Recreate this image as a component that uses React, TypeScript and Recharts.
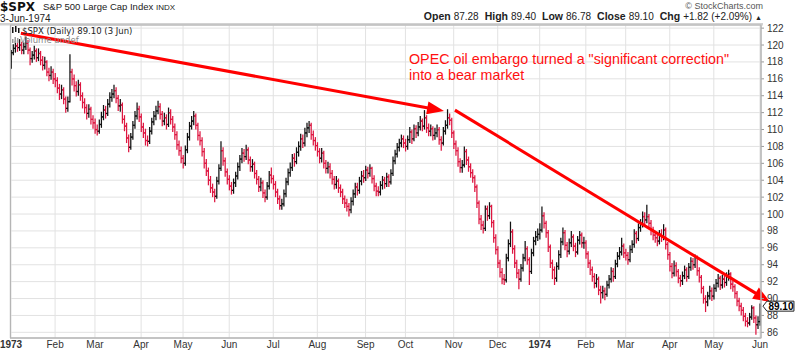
import React from "react";
import {
  ComposedChart,
  Bar,
  XAxis,
  YAxis,
  CartesianGrid,
  ReferenceLine,
  ReferenceDot,
} from "recharts";

const FONT = "'Liberation Sans', Arial, Helvetica, sans-serif";
const UP = "#111111";
const DOWN = "#de1640";
const ARROW = "#ff0000";

// daily closes, Jan 2 1973 .. Jun 3 1974 (one row per month)
const closes = [
  119.1, 119.6, 119.9, 119.7, 120.0, 119.4, 119.8, 120.2, 119.4, 118.4, 118.8, 119.3, 118.5, 119.0, 118.2, 117.6, 118.0, 116.8, 116.4, 116.8, 116.0,
  115.8, 114.9, 114.2, 114.7, 113.6, 112.5, 113.3, 116.8, 116.0, 115.2, 114.5, 115.3, 114.0, 113.2, 112.6, 111.9, 112.4, 111.2, 110.8,
  110.0, 109.8, 110.6, 111.5, 112.3, 111.9, 113.0, 113.8, 114.2, 114.6, 113.7, 112.8, 112.9, 111.2, 110.4, 109.0, 107.9, 109.1, 110.5, 111.6, 112.4, 111.5,
  110.3, 109.6, 108.7, 108.6, 109.8, 110.9, 111.6, 112.2, 112.7, 111.8, 111.0, 111.4, 110.6, 112.0, 111.2, 110.3, 109.4, 108.2, 107.5, 106.6,
  106.0, 107.6, 109.1, 110.4, 111.0, 111.6, 110.5, 109.3, 108.7, 107.4, 106.0, 105.1, 104.0, 103.1, 102.6, 102.1, 103.9, 105.4, 107.5, 106.3, 105.0, 104.1,
  103.3, 102.8, 103.7, 104.5, 105.6, 106.5, 107.2, 106.8, 107.6, 106.4, 105.6, 105.9, 104.8, 104.1, 103.2, 103.7, 102.5, 102.0, 103.3, 104.6, 104.2,
  103.5, 102.6, 101.8, 101.0, 101.2, 102.4, 103.8, 104.9, 105.5, 106.6, 106.2, 107.3, 108.0, 108.9, 108.4, 109.6, 110.2, 110.5, 109.4, 108.7, 108.1,
  107.4, 106.6, 107.2, 106.0, 105.4, 105.6, 104.8, 104.1, 103.5, 103.9, 103.1, 102.6, 101.8, 101.3, 100.9, 100.5, 101.5, 102.4, 103.2, 102.8, 103.9, 104.5, 104.3,
  105.2, 104.8, 105.4, 104.2, 103.3, 102.7, 102.6, 103.4, 104.0, 103.6, 104.4, 103.8, 104.8, 106.3, 107.1, 107.9, 108.4, 108.9, 108.4,
  108.0, 108.8, 109.7, 108.9, 110.1, 109.6, 110.3, 111.0, 110.4, 111.4, 110.2, 109.8, 110.1, 109.3, 109.6, 110.0, 108.8, 108.4, 109.8, 110.5, 111.4, 111.1, 109.6,
  108.3, 107.5, 106.2, 105.5, 105.8, 107.4, 106.4, 105.6, 104.9, 104.3, 103.2, 101.3, 99.4, 98.7, 98.3, 100.6, 99.8, 100.9, 99.0, 97.2, 95.8,
  94.2, 93.1, 92.3, 92.2, 94.8, 96.5, 97.9, 95.9, 94.2, 93.0, 92.3, 93.6, 94.8, 95.9, 94.6, 93.2, 95.4, 96.8, 97.3, 97.6,
  98.1, 99.8, 98.9, 97.8, 96.1, 94.2, 93.4, 92.4, 93.8, 95.2, 96.7, 97.8, 96.3, 95.6, 96.6, 97.3, 96.2, 95.5, 96.9, 97.5, 96.6, 96.6,
  95.3, 94.2, 93.4, 92.6, 91.8, 92.3, 91.0, 90.7, 90.9, 90.5, 91.6, 92.3, 93.2, 92.6, 94.1, 95.0, 95.5, 96.2, 95.4,
  95.1, 94.6, 95.8, 96.4, 97.7, 97.1, 98.4, 98.8, 99.7, 99.3, 99.7, 98.9, 98.1, 97.5, 97.2, 96.8, 97.6, 97.3, 98.1, 96.4, 95.2,
  93.8, 93.0, 93.9, 93.2, 92.4, 92.1, 92.7, 93.4, 92.6, 93.7, 94.4, 94.0, 94.9, 93.3, 92.5, 91.2, 90.0, 89.6, 90.3, 90.9, 90.3,
  91.2, 91.8, 92.4, 91.6, 92.3, 91.9, 92.6, 92.9, 91.7, 91.4, 90.6, 89.7, 89.1, 88.6, 87.9, 87.3, 87.1, 87.8, 88.9, 87.7, 86.9, 87.28,
  89.1,
];

const highs = [
  119.4, 120.1, 120.5, 120.6, 120.7, 120.4, 120.3, 121.0, 120.6, 119.7, 119.3, 119.9, 119.6, 119.6, 119.3, 118.7, 118.6, 118.2, 117.3, 117.5, 117.2,
  116.7, 116.2, 115.4, 115.3, 115.0, 113.9, 113.9, 118.9, 117.2, 116.5, 115.7, 115.9, 115.6, 114.4, 113.7, 113.0, 113.0, 112.7, 111.7,
  111.3, 110.6, 111.2, 112.1, 112.9, 112.8, 113.6, 114.4, 114.8, 115.3, 115.0, 114.1, 113.6, 113.2, 111.7, 110.8, 109.4, 109.6, 111.0, 112.2, 113.2, 112.8,
  111.9, 110.8, 110.1, 109.3, 110.3, 111.4, 112.2, 112.8, 113.4, 113.1, 112.2, 112.0, 111.8, 112.6, 112.4, 111.6, 110.7, 109.8, 108.7, 108.0,
  107.0, 108.1, 109.6, 110.9, 111.6, 112.2, 111.9, 110.8, 109.8, 109.1, 107.8, 106.5, 105.5, 104.5, 103.6, 103.0, 104.4, 105.9, 108.6, 107.9, 106.7, 105.4,
  104.6, 103.8, 104.2, 105.0, 106.1, 107.0, 107.8, 107.7, 108.2, 107.9, 106.8, 106.5, 106.2, 105.2, 104.5, 104.3, 104.0, 102.9, 103.8, 105.1, 105.5,
  104.6, 103.9, 103.0, 102.2, 101.8, 102.9, 104.3, 105.4, 106.1, 107.1, 107.2, 107.9, 108.6, 109.5, 109.4, 110.2, 110.8, 111.0, 110.8, 109.9, 109.1,
  108.5, 107.8, 107.8, 107.5, 106.4, 106.2, 106.0, 105.2, 104.5, 104.5, 104.2, 103.5, 103.0, 102.2, 101.8, 101.3, 102.0, 102.9, 103.7, 103.7, 104.4, 105.1, 105.2,
  105.7, 105.6, 105.9, 105.6, 104.6, 103.7, 103.3, 103.9, 104.5, 104.4, 104.9, 104.7, 105.3, 106.8, 107.6, 108.4, 108.9, 109.4, 109.3,
  108.9, 109.3, 110.3, 110.0, 110.6, 110.5, 110.9, 111.6, 111.3, 112.3, 111.7, 110.7, 110.6, 110.4, 110.2, 110.6, 110.3, 109.2, 110.3, 111.1, 112.4, 111.9, 111.4,
  109.9, 108.7, 107.9, 106.6, 106.4, 108.0, 107.7, 106.8, 106.0, 105.3, 104.6, 103.5, 101.6, 99.9, 99.2, 101.0, 101.0, 101.4, 101.1, 99.3, 97.6,
  96.2, 94.6, 93.6, 92.9, 95.3, 97.0, 99.1, 98.2, 96.3, 94.6, 93.5, 94.1, 95.3, 96.8, 96.2, 94.9, 95.9, 97.3, 98.0, 98.3,
  98.9, 100.9, 100.2, 99.2, 98.1, 96.4, 94.6, 93.8, 94.3, 95.7, 97.2, 98.4, 98.1, 96.7, 97.1, 98.0, 97.6, 96.6, 97.4, 98.0, 97.8, 97.3,
  96.9, 95.6, 94.6, 93.8, 93.0, 92.9, 92.6, 91.5, 91.5, 91.3, 92.1, 92.8, 93.7, 93.6, 94.6, 95.5, 96.1, 97.2, 96.5,
  95.9, 95.5, 96.3, 96.9, 98.2, 98.0, 98.9, 99.4, 100.3, 100.2, 101.1, 100.0, 99.3, 98.5, 98.0, 97.6, 98.1, 98.2, 98.8, 98.4, 96.7,
  95.5, 94.2, 94.5, 94.3, 93.5, 92.8, 93.2, 93.9, 93.7, 94.2, 94.9, 94.8, 95.2, 95.1, 93.7, 92.8, 91.5, 90.4, 90.8, 91.5, 91.3,
  91.7, 92.3, 92.9, 92.7, 92.8, 92.7, 93.1, 93.4, 93.1, 92.1, 91.7, 90.9, 90.1, 89.5, 89.0, 88.3, 87.8, 88.3, 89.2, 89.1, 88.0, 87.9,
  89.4,
];

const lows = [
  117.2, 118.8, 119.1, 119.2, 119.3, 118.9, 118.9, 119.4, 118.9, 117.6, 117.9, 118.3, 118.0, 118.1, 117.6, 117.0, 117.1, 116.3, 115.7, 115.9, 115.4,
  115.0, 114.3, 113.5, 113.6, 113.0, 112.0, 112.1, 113.2, 115.2, 114.5, 113.9, 114.0, 113.4, 112.5, 111.9, 111.2, 111.4, 110.6, 110.1,
  109.5, 109.3, 109.5, 110.2, 111.1, 111.3, 111.6, 112.6, 113.3, 113.7, 113.1, 112.2, 112.1, 110.7, 109.8, 108.4, 107.3, 107.6, 108.8, 110.1, 111.2, 110.9,
  109.7, 109.0, 108.1, 108.0, 108.3, 109.4, 110.5, 111.1, 111.8, 111.2, 110.4, 110.5, 110.0, 110.3, 110.6, 109.7, 108.8, 107.6, 106.9, 106.0,
  105.4, 105.7, 107.2, 108.7, 110.0, 110.5, 110.0, 108.7, 108.1, 106.8, 105.4, 104.5, 103.4, 102.5, 102.0, 101.4, 101.8, 103.5, 105.1, 105.7, 104.4, 103.5,
  102.8, 102.3, 102.4, 103.2, 104.1, 105.1, 106.0, 106.2, 106.4, 105.9, 105.0, 105.0, 104.2, 103.5, 102.6, 102.7, 101.9, 101.4, 101.7, 102.9, 103.6,
  102.9, 102.0, 101.2, 100.5, 100.5, 100.9, 102.0, 103.4, 104.4, 105.1, 105.6, 105.9, 106.8, 107.5, 107.8, 108.0, 109.1, 109.6, 108.8, 108.1, 107.5,
  106.8, 106.0, 106.1, 105.4, 104.8, 104.8, 104.2, 103.5, 102.9, 103.0, 102.5, 102.0, 101.2, 100.7, 100.3, 99.7, 100.1, 101.0, 101.9, 102.2, 102.4, 103.4, 103.7,
  103.9, 104.2, 104.4, 103.6, 102.7, 102.1, 102.1, 102.2, 102.9, 103.0, 103.2, 103.2, 103.5, 104.5, 105.9, 106.7, 107.4, 107.9, 107.8,
  107.4, 107.6, 108.4, 108.3, 108.6, 109.0, 109.2, 109.9, 109.8, 110.0, 109.6, 109.2, 109.2, 108.7, 108.8, 109.1, 108.2, 107.5, 108.1, 109.4, 110.1, 110.5, 109.0,
  107.7, 106.9, 105.6, 104.9, 104.9, 105.5, 105.8, 105.0, 104.3, 103.7, 102.6, 100.7, 98.8, 98.1, 97.7, 98.0, 99.2, 99.4, 98.4, 96.6, 95.2,
  93.6, 92.5, 91.7, 91.6, 91.9, 94.4, 96.1, 95.3, 93.6, 92.4, 91.1, 92.0, 93.2, 94.4, 94.0, 91.6, 92.9, 95.0, 96.3, 96.8,
  97.0, 97.8, 98.3, 97.2, 95.5, 93.6, 92.3, 91.6, 92.0, 93.4, 94.8, 96.3, 95.7, 94.9, 95.2, 96.1, 95.6, 94.9, 95.2, 96.4, 96.0, 95.9,
  94.7, 93.6, 92.8, 92.0, 91.2, 91.3, 90.4, 89.4, 90.0, 89.8, 90.2, 91.2, 91.9, 92.0, 92.3, 93.7, 94.6, 95.1, 94.8,
  94.5, 94.0, 94.3, 95.4, 96.0, 96.5, 96.8, 97.9, 98.4, 98.7, 98.9, 98.3, 97.5, 96.9, 96.6, 96.2, 96.4, 96.7, 96.9, 95.8, 94.6,
  93.2, 92.4, 92.6, 92.6, 91.8, 91.4, 91.6, 92.3, 92.0, 92.3, 93.3, 93.4, 93.6, 92.7, 91.9, 90.6, 89.4, 88.4, 89.1, 89.9, 89.7,
  89.9, 90.8, 91.3, 91.0, 91.2, 91.3, 91.5, 92.1, 91.1, 90.8, 90.0, 89.1, 88.5, 88.0, 87.3, 86.7, 86.6, 86.8, 87.5, 87.1, 85.7, 86.4,
  86.78,
];

// open of the first session; later opens are the prior close (as in the 1970s data)
const firstOpen = 118.05;

const monthTicks = [0, 21, 40, 62, 82, 104, 125, 146, 169, 188, 211, 232, 252, 274, 293, 314, 335, 357];
const monthLabels = ["1973", "Feb", "Mar", "Apr", "May", "Jun", "Jul", "Aug", "Sep", "Oct", "Nov", "Dec", "1974", "Feb", "Mar", "Apr", "May", "Jun"];
const priceTicks = [86, 88, 90, 92, 94, 96, 98, 100, 102, 104, 106, 108, 110, 112, 114, 116, 118, 120, 122];

// annotation arrows in (session index, price)
const arrowOne = [{ x: 4.7, y: 121.4 }, { x: 206.4, y: 112.2 }];
const arrowTwo = [{ x: 211.6, y: 112.3 }, { x: 361.8, y: 89.6 }];

const data = closes.map((close, i) => ({
  i,
  open: i === 0 ? firstOpen : closes[i - 1],
  high: highs[i],
  low: lows[i],
  close,
  range: [lows[i], highs[i]],
}));

const last = data[data.length - 1];

function OhlcBar(props: any) {
  const { x, y, width, height, payload } = props;
  if (!payload || height == null) return null;
  const top = Math.min(y, y + height);
  const h = Math.abs(height);
  const span = payload.high - payload.low || 1;
  const toY = (v: number) => top + ((payload.high - v) / span) * h;
  const cx = x + width / 2;
  const color = payload.close < payload.open ? DOWN : UP;
  return (
    <g stroke={color} strokeWidth={1.25}>
      <line x1={cx} x2={cx} y1={top} y2={top + h} />
      <line x1={cx - 1.8} x2={cx} y1={toY(payload.open)} y2={toY(payload.open)} />
      <line x1={cx} x2={cx + 1.8} y1={toY(payload.close)} y2={toY(payload.close)} />
    </g>
  );
}

function Arrow(props: any) {
  const { x1, y1, x2, y2 } = props;
  if (x1 == null) return null;
  const a = Math.atan2(y2 - y1, x2 - x1);
  const len = 17;
  const half = 6.5;
  const bx = x2 - len * Math.cos(a);
  const by = y2 - len * Math.sin(a);
  const px = -Math.sin(a) * half;
  const py = Math.cos(a) * half;
  return (
    <g>
      <line x1={x1} y1={y1} x2={bx + Math.cos(a)} y2={by + Math.sin(a)} stroke={ARROW} strokeWidth={3} />
      <polygon points={`${x2},${y2} ${bx + px},${by + py} ${bx - px},${by - py}`} fill={ARROW} />
    </g>
  );
}

function PriceTag(props: any) {
  const { cx, cy } = props;
  if (cx == null) return null;
  const l = cx + 3;
  return (
    <g>
      <polygon
        points={`${l},${cy} ${l + 4},${cy - 5} ${l + 31},${cy - 5} ${l + 31},${cy + 5} ${l + 4},${cy + 5}`}
        fill="#fff"
        stroke="#222"
        strokeWidth={1}
      />
      <text x={l + 18} y={cy + 3.5} textAnchor="middle" fontFamily={FONT} fontSize={10} fontWeight="bold" fill="#000">
        {last.close.toFixed(2)}
      </text>
    </g>
  );
}

function MonthTick(props: any) {
  const { x, payload } = props;
  const idx = monthTicks.indexOf(payload.value);
  const label = idx >= 0 ? monthLabels[idx] : "";
  const isYear = /^\d{4}$/.test(label);
  return (
    <text x={x} y={348} textAnchor="middle" fontFamily={FONT} fontSize={10} fontWeight={isYear ? "bold" : "normal"} fill="#333">
      {label}
    </text>
  );
}

function Overlay() {
  return (
    <svg width={800} height={352} style={{ position: "absolute", left: 0, top: 0, pointerEvents: "none" }}>
      <text x={0} y={10.5} fontFamily="'DejaVu Sans', sans-serif" fontSize={12} fontWeight="bold" fill="#111">$SPX</text>
      <text x={43} y={10} fontFamily={FONT} fontSize={9.5} fill="#222">S&amp;P 500 Large Cap Index</text>
      <text x={156} y={10} fontFamily={FONT} fontSize={8} fill="#222">INDX</text>
      <text x={0} y={21.5} fontFamily={FONT} fontSize={10} fill="#222">3-Jun-1974</text>

      <text x={763} y={9} textAnchor="end" fontFamily={FONT} fontSize={9} fill="#555">© StockCharts.com</text>
      <text x={762} y={20} textAnchor="end" fontFamily={FONT} fontSize={10} fill="#222">
        <tspan fontWeight="bold" fontSize={10.5}>Open</tspan>
        <tspan dx={3}>87.28</tspan>
        <tspan dx={6} fontWeight="bold" fontSize={10.5}>High</tspan>
        <tspan dx={3}>89.40</tspan>
        <tspan dx={6} fontWeight="bold" fontSize={10.5}>Low</tspan>
        <tspan dx={3}>86.78</tspan>
        <tspan dx={6} fontWeight="bold" fontSize={10.5}>Close</tspan>
        <tspan dx={3}>89.10</tspan>
        <tspan dx={6} fontWeight="bold" fontSize={10.5}>Chg</tspan>
        <tspan dx={3}>+1.82 (+2.09%)</tspan>
        <tspan dx={3} fontSize={7}>▲</tspan>
      </text>

      <rect x={0} y={23} width={763} height={2.5} fill="#d2d2d2" />
      <rect x={10.5} y={25} width={750.5} height={313} fill="none" stroke="#b5b5b5" strokeWidth={1} />

      <g fill="#111">
        <rect x={12} y={27} width={1.5} height={6} />
        <rect x={15} y={26} width={1.5} height={6} />
        <rect x={18} y={28} width={1.5} height={5} />
      </g>
      <text x={22} y={33.5} fontFamily="'DejaVu Sans', sans-serif" fontSize={8.5} fill="#222">$SPX (Daily) 89.10 (3 Jun)</text>
      <g fill="#999">
        <rect x={12} y={39} width={1.5} height={4} />
        <rect x={14.5} y={37} width={1.5} height={6} />
        <rect x={17} y={38} width={1.5} height={5} />
      </g>
      <text x={20} y={42.5} fontFamily="'DejaVu Sans', sans-serif" fontSize={8.5} fill="#888">Volume undef</text>

      <text fontFamily={FONT} fontSize={14.3} fill="#ff1010">
        <tspan x={409} y={64}>OPEC oil embargo turned a "significant correction"</tspan>
        <tspan x={409} y={79.5}>into a bear market</tspan>
      </text>
    </svg>
  );
}

export default function App() {
  return (
    <div style={{ position: "relative", width: 800, height: 352, background: "#fff", overflow: "hidden" }}>
      <style>{"body{margin:0}"}</style>
      <ComposedChart width={800} height={352} data={data} margin={{ top: 25, right: 0, bottom: 0, left: 10 }}>
        <CartesianGrid stroke="#e2e2e2" strokeWidth={1} />
        <XAxis
          type="number"
          dataKey="i"
          domain={[-0.5, 357.5]}
          allowDataOverflow
          ticks={monthTicks}
          interval={0}
          height={14}
          tickLine={false}
          axisLine={{ stroke: "#b5b5b5" }}
          tick={<MonthTick />}
        />
        <YAxis
          orientation="right"
          width={39}
          domain={[85.33, 122.37]}
          allowDataOverflow
          ticks={priceTicks}
          interval={0}
          tickSize={3}
          tickMargin={3}
          tickLine={{ stroke: "#999" }}
          axisLine={{ stroke: "#b5b5b5" }}
          tick={{ fontSize: 10, fill: "#333", fontFamily: FONT }}
        />
        <Bar dataKey="range" shape={<OhlcBar />} isAnimationActive={false} />
        <ReferenceDot x={last.i} y={last.close} ifOverflow="visible" shape={<PriceTag />} />
        <ReferenceLine segment={arrowOne} ifOverflow="visible" shape={<Arrow />} />
        <ReferenceLine segment={arrowTwo} ifOverflow="visible" shape={<Arrow />} />
      </ComposedChart>
      <Overlay />
    </div>
  );
}
